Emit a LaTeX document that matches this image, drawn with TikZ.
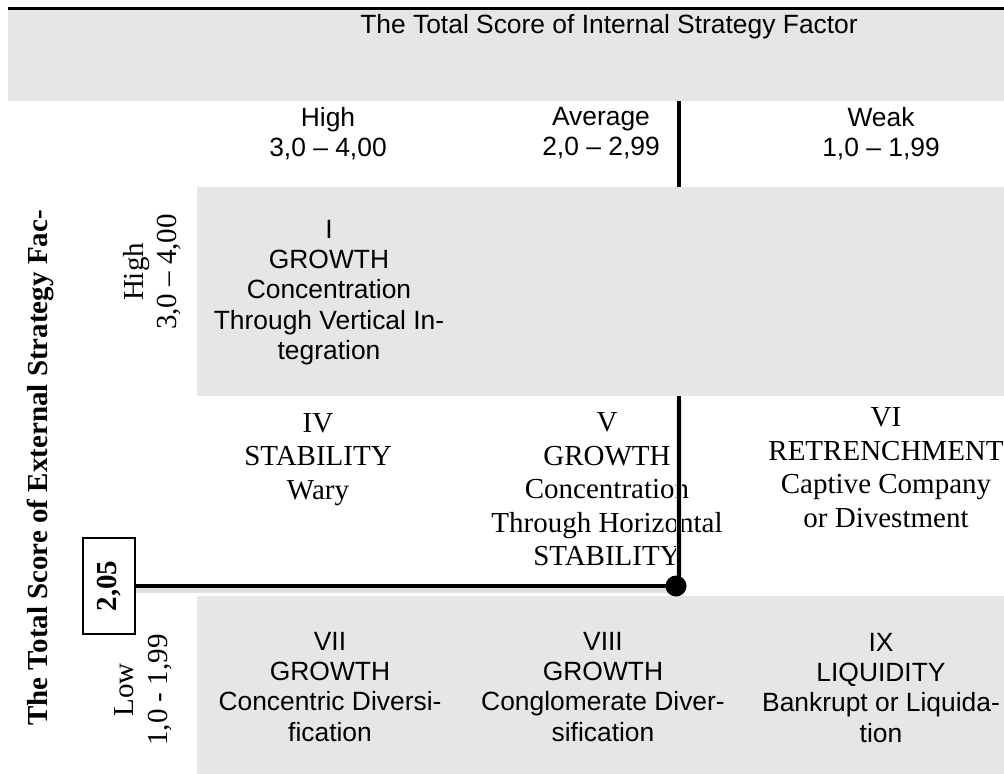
\documentclass[tikz,border=0pt]{standalone}
\usepackage{fontspec}
\setmainfont{Liberation Serif}
\setsansfont{Liberation Sans}
\usetikzlibrary{positioning}
\definecolor{cellgrey}{HTML}{E6E6E6}

\begin{document}
\begin{tikzpicture}[
  x=0.5pt, y=-0.5pt,
  every node/.style={inner sep=0pt},
  sanstxt/.style={font=\fontsize{13.2}{15.1}\selectfont\sffamily,align=center,anchor=north},
  seriftxt/.style={font=\fontsize{14.5}{16.75}\selectfont,align=center,anchor=north},
  sidelbl/.style={font=\fontsize{14.5}{16.75}\selectfont,align=center,rotate=90},
  axisline/.style={line width=2.4pt},
  shadowline/.style={preaction={draw,black!12,line width=3pt,transform canvas={yshift=-2pt}}},
  scorebox/.style={draw,line width=0.6pt,rotate=90,font=\fontsize{14.5}{16.75}\selectfont\bfseries,minimum width=48pt,minimum height=26pt},
  marker/.style={circle,fill=black,minimum size=10.5pt}
]
\useasboundingbox (0,0) rectangle (1004,774);

% shaded bands
\fill[cellgrey] (8,9) rectangle (1004,101);
\fill[cellgrey] (197,187) rectangle (1004,396);
\fill[cellgrey] (197,596) rectangle (1004,774);
\draw[line width=1.4pt] (8,8.5) -- (1004,8.5);

% column headings
\node[sanstxt] (title) at (609,14) {The Total Score of Internal Strategy Factor};
\node[sanstxt] (hhigh) at (328,107) {High\\3,0 – 4,00};
\node[sanstxt] (havg) at (601,107) {Average\\2,0 – 2,99};
\node[sanstxt] (hweak) at (881,107) {Weak\\1,0 – 1,99};

% row headings
\node[sidelbl,font=\fontsize{14.5}{16.75}\selectfont\bfseries] (ytitle) at (40,468) {The Total Score of External Strategy Fac-};
\node[sidelbl] (vhigh) at (152,272) {High\\3,0 – 4,00};
\node[sidelbl] (vlow) at (143,690) {Low\\1,0 - 1,99};

% cells
\node[sanstxt] (c1) at (329,220) {I\\GROWTH\\Concentration\\Through Vertical In-\\tegration};
\node[seriftxt] (c4) at (318,413) {IV\\STABILITY\\Wary};
\node[seriftxt] (c5) at (607,412.5) {V\\GROWTH\\Concentration\\Through Horizontal\\STABILITY};
\node[seriftxt] (c6) at (886,407.5) {VI\\RETRENCHMENT\\Captive Company\\or Divestment};
\node[sanstxt] (c7) at (330,632) {VII\\GROWTH\\Concentric Diversi-\\fication};
\node[sanstxt] (c8) at (603,632) {VIII\\GROWTH\\Conglomerate Diver-\\sification};
\node[sanstxt] (c9) at (881,633) {IX\\LIQUIDITY\\Bankrupt or Liquida-\\tion};

% score position
\coordinate (ctop) at (679,101);
\coordinate (cmid) at (679,187);
\coordinate (cbot) at (679,396);
\node[scorebox] (score) at (109,586) {2,05};
\draw[axisline] (ctop) -- (cmid);
\draw[axisline,shadowline] (score.south) -| (cbot);
\node[marker,xshift=-1.5pt] (dot) at (cbot |- score.south) {};
\end{tikzpicture}
\end{document}
